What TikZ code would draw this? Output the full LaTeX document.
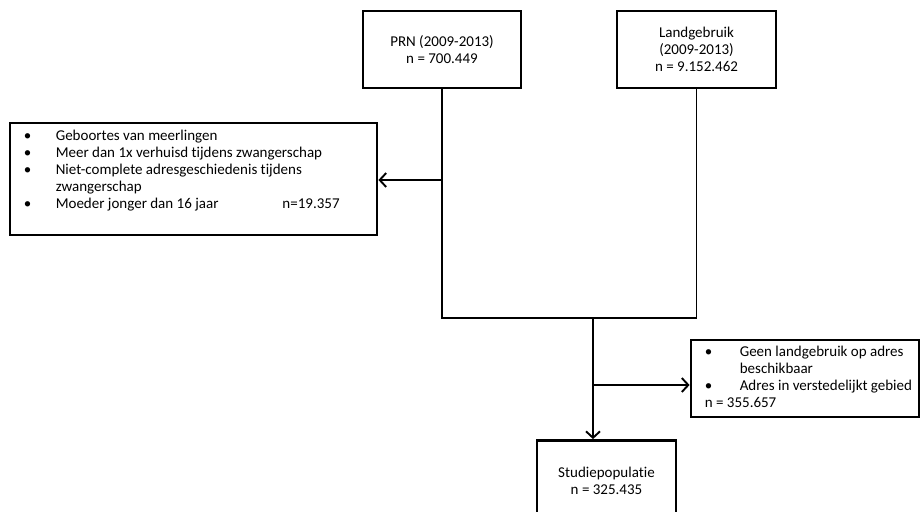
\documentclass[tikz,border=0pt]{standalone}
\usepackage{fontspec}
\setmainfont{Carlito}[Ligatures=CommonOff]
\usetikzlibrary{arrows.meta}
\tikzset{
  box/.style={draw=black, line width=2.8pt, fill=white, align=center, font=\fontsize{15}{17}\selectfont},
  list/.style={align=left, font=\fontsize{15}{17}\selectfont, inner sep=0pt},
  flow/.style={draw=black, line width=1.9pt},
  arr/.style={flow, -{Straight Barb[length=6.5pt,width=14pt,line width=1.9pt]}},
}
\newcommand{\bul}{\makebox[32pt][l]{\textbullet}}
\newcommand{\bulr}{\makebox[35pt][l]{\textbullet}}

\begin{document}
\begin{tikzpicture}[x=1pt, y=-1pt]
\useasboundingbox (0,0) rectangle (920,511);
\clip (0,0) rectangle (920,511);
% sources
\node[box, minimum width=158pt, minimum height=77pt] (prn) at (442,49.5) {PRN (2009-2013)\\n = 700.449};
\node[box, minimum width=159pt, minimum height=77pt] (land) at (696.5,49.5) {Landgebruik\\(2009-2013)\\n = 9.152.462};
% exclusions
\node[box, minimum width=367pt, minimum height=112pt] (excl1) at (193.5,179) {};
\node[list, anchor=north west] (excl1txt) at ([shift={(15pt,-8pt)}]excl1.north west)
  {\bul Geboortes van meerlingen\\
   \bul Meer dan 1x verhuisd tijdens zwangerschap\\
   \bul Niet-complete adresgeschiedenis tijdens\\
   \hspace*{32pt}zwangerschap\\
   \bul Moeder jonger dan 16 jaar\hspace*{64pt}n=19.357};
\node[box, minimum width=228pt, minimum height=77pt] (excl2) at (805,378.5) {};
\node[list, anchor=north west] (excl2txt) at ([shift={(15pt,-7.5pt)}]excl2.north west)
  {\bulr Geen landgebruik op adres\\
   \hspace*{35pt}beschikbaar\\
   \bulr Adres in verstedelijkt gebied\\
   n = 355.657};
% result
\node[box, minimum width=139pt, minimum height=80pt] (studie) at (606.5,480.5) {Studiepopulatie\\n = 325.435};
% connectors
\coordinate (join) at (593,318);
\coordinate (split1) at (prn.south |- 0,180);
\coordinate (split2) at (593,385);
\draw[flow] (prn.south) |- (join) -| (land.south);
\draw[arr] (split1) -- (split1 -| excl1.east);
\draw[arr] (join) -- (join |- studie.north);
\draw[arr] (split2) -- (split2 -| excl2.west);
\end{tikzpicture}
\end{document}
